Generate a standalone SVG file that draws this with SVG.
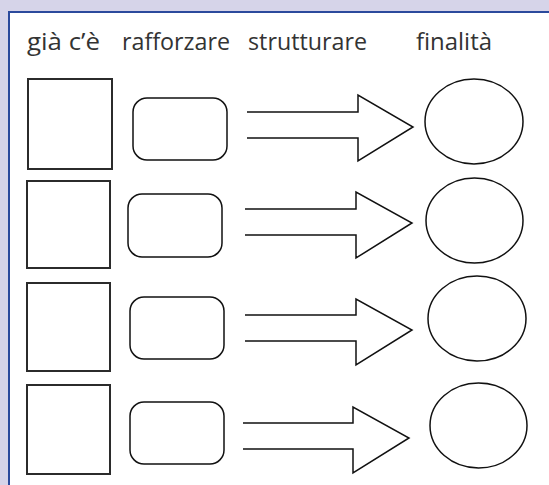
<svg xmlns="http://www.w3.org/2000/svg" width="549" height="485" viewBox="0 0 549 485">
  <style>
    .hdr { font-family: "Open Sans", "DejaVu Sans", sans-serif; font-size: 24px; fill: #333333; }
    .sq { fill: #ffffff; stroke: #2b2b2b; stroke-width: 2; }
    .rr { fill: #ffffff; stroke: #111111; stroke-width: 1.5; }
    .ov { fill: #ffffff; stroke: #111111; stroke-width: 1.5; }
    .arr { fill: none; stroke: #111111; stroke-width: 1.5; stroke-linejoin: miter; }
  </style>

  <!-- page background and framed panel -->
  <rect x="0" y="0" width="549" height="485" fill="#d6d4e9"/>
  <rect x="9" y="12" width="540" height="473" fill="#ffffff"/>
  <path d="M9,485 V12 H549" fill="none" stroke="#2b4a9c" stroke-width="2"/>

  <!-- column headings -->
  <g id="headings">
    <text class="hdr" x="27" y="50" textLength="73" lengthAdjust="spacingAndGlyphs">già c’è</text>
    <text class="hdr" x="122" y="50" textLength="108" lengthAdjust="spacingAndGlyphs">rafforzare</text>
    <text class="hdr" x="248" y="50" textLength="119" lengthAdjust="spacingAndGlyphs">strutturare</text>
    <text class="hdr" x="416" y="50" textLength="76" lengthAdjust="spacingAndGlyphs">finalità</text>
  </g>

  <!-- row 1 -->
  <g id="row1-square"><rect class="sq" x="28" y="79" width="84" height="90"/></g>
  <g id="row1-rounded"><rect class="rr" x="133" y="98" width="94" height="62" rx="14" ry="14"/></g>
  <g id="row1-oval"><ellipse class="ov" cx="474" cy="121.5" rx="49" ry="42.5"/></g>

  <!-- row 2 -->
  <g id="row2-square"><rect class="sq" x="27" y="181" width="83" height="87"/></g>
  <g id="row2-rounded"><rect class="rr" x="128" y="194" width="94" height="63" rx="14" ry="14"/></g>
  <g id="row2-oval"><ellipse class="ov" cx="474.5" cy="220.5" rx="48.5" ry="42.5"/></g>

  <!-- row 3 -->
  <g id="row3-square"><rect class="sq" x="27" y="283" width="83" height="88"/></g>
  <g id="row3-rounded"><rect class="rr" x="130" y="297" width="94" height="62" rx="14" ry="14"/></g>
  <g id="row3-oval"><ellipse class="ov" cx="477" cy="318.5" rx="49" ry="42.5"/></g>

  <!-- row 4 -->
  <g id="row4-square"><rect class="sq" x="27" y="385" width="83" height="89"/></g>
  <g id="row4-rounded"><rect class="rr" x="130" y="402" width="94" height="62" rx="14" ry="14"/></g>
  <g id="row4-oval"><ellipse class="ov" cx="478.5" cy="425.5" rx="48.5" ry="42.5"/></g>

  <!-- block arrows toward the ovals -->
  <g id="connectors">
    <path class="arr" d="M247,112 H358 V95 L413,127 L358,161 V138 H247"/>
    <path class="arr" d="M245,209 H356 V192 L412,223 L356,258 V235 H245"/>
    <path class="arr" d="M245,315 H356 V299 L412,330 L356,365 V341 H245"/>
    <path class="arr" d="M243,423 H353 V407 L409,438 L353,473 V449 H243"/>
  </g>
</svg>
